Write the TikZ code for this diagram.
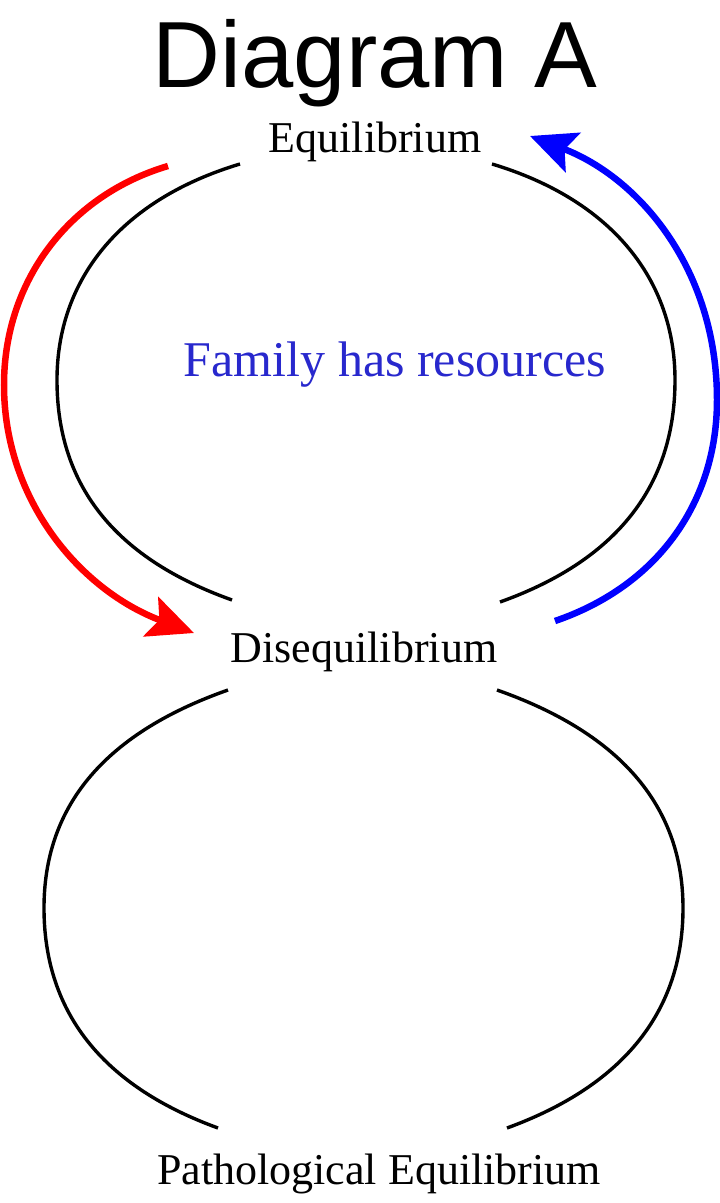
\documentclass[tikz,border=0pt]{standalone}
\usepackage{fontspec}
\setmainfont{Liberation Serif}
\newfontfamily\titlefont{Liberation Sans}
\usetikzlibrary{arrows.meta}
\definecolor{famblue}{RGB}{40,40,205}
\tikzset{
  lbl/.style={font=\fontsize{44}{48}\selectfont, inner sep=0pt, anchor=base},
  arc/.style={draw=black, line width=3.4pt},
  redarrow/.style={draw=red, line width=6.5pt, -{Stealth[length=46pt,width=42pt,inset=9pt]}},
  bluearrow/.style={draw=blue, line width=6.5pt, -{Stealth[length=46pt,width=42pt,inset=9pt]}}
}
\begin{document}
\begin{tikzpicture}[x=1pt,y=-1pt]
\useasboundingbox (0,0) rectangle (720,1203);
% texts
\node[inner sep=0pt, anchor=base, font=\titlefont\fontsize{94}{100}\selectfont] (title) at (375,87) {Diagram A};
\node[lbl] (eq) at (375,152) {Equilibrium};
\node[lbl] (dis) at (364,662) {Disequilibrium};
\node[lbl] (path) at (379,1184) {Pathological Equilibrium};
\node[lbl, font=\fontsize{50}{54}\selectfont, text=famblue] (fam) at (395,376) {Family has resources};
% curve end points
\coordinate (ul1) at (240,164);
\coordinate (ul2) at (232,600);
\coordinate (ur1) at (492,164);
\coordinate (ur2) at (500,602);
\coordinate (ll1) at (228,690);
\coordinate (ll2) at (218,1128);
\coordinate (lr1) at (497,690);
\coordinate (lr2) at (507,1128);
\coordinate (rs) at (168,166);
\coordinate (re) at (194,633);
\coordinate (bs) at (555,621);
\coordinate (be) at (530,136);
% black arcs
\draw[arc] (ul1) .. controls (120,200) and (57,280) .. (57,380) .. controls (57,490) and (120,560) .. (ul2);
\draw[arc] (ur1) .. controls (612,200) and (675,280) .. (675,380) .. controls (675,490) and (612,562) .. (ur2);
\draw[arc] (ll1) .. controls (100,735) and (44,810) .. (44,908) .. controls (44,1010) and (100,1085) .. (ll2);
\draw[arc] (lr1) .. controls (625,735) and (683,810) .. (683,908) .. controls (683,1010) and (625,1085) .. (lr2);
% coloured arrows
\draw[redarrow] (rs) .. controls (70,195) and (4,280) .. (4,385) .. controls (4,500) and (80,590) .. (re);
\draw[bluearrow] (bs) .. controls (660,585) and (717,500) .. (717,400) .. controls (717,270) and (640,178) .. (be);
\end{tikzpicture}
\end{document}
